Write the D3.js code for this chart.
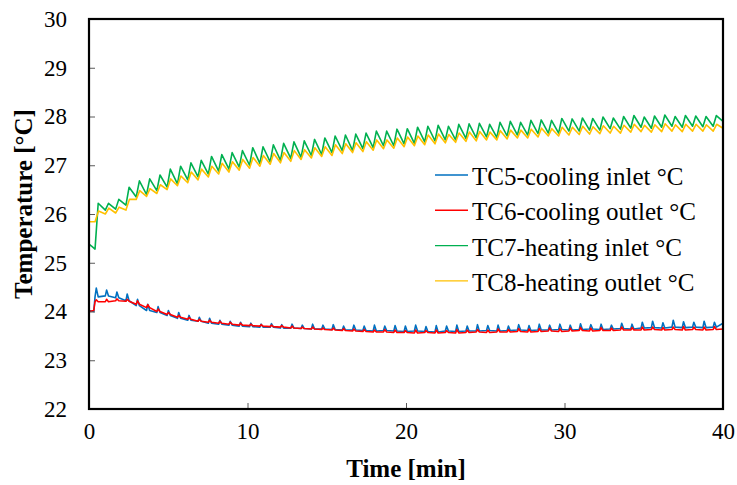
<!DOCTYPE html>
<html>
<head>
<meta charset="utf-8">
<script src="https://cdn.jsdelivr.net/npm/d3@7/dist/d3.min.js"></script>
<style>
  html, body { margin: 0; padding: 0; background: #fff; }
  svg { display: block; }
  text { font-family: "Liberation Serif", "Times New Roman", serif; fill: #000; }
</style>
</head>
<body>
<svg id="chart" width="737" height="485"></svg>
<script>
// Thermocouple readings; each cycle of the heater/chiller gives one low and one high value.
const cycleStart = 0.38;   // min, first cycle
const cyclePeriod = 0.65;  // min
const endTime = 40;

const seriesNames = [
  "TC5-cooling inlet °C",
  "TC6-cooling outlet °C",
  "TC7-heating inlet °C",
  "TC8-heating outlet °C"
];
const seriesColors = ["#0070C0", "#FF0000", "#00B050", "#FFC000"];

const xTicks = [0, 10, 20, 30, 40];
const yTicks = [22, 23, 24, 25, 26, 27, 28, 29, 30];

// readings before the first cycle: [time, value]
const tc5Start = [[0, 24.02], [0.3, 24.0]];
const tc6Start = [[0, 24.0], [0.3, 24.02]];
const tc7Start = [[0, 25.38], [0.2, 25.33]];
const tc8Start = [[0, 25.84], [0.3, 25.84]];

// TC5 – cooling inlet
const tc5Low = [24.30, 24.32, 24.28, 24.22, 24.12, 24.02, 23.98, 23.92, 23.86, 23.82,
  23.80, 23.76, 23.74, 23.72, 23.70, 23.69, 23.68, 23.68, 23.66, 23.66,
  23.65, 23.64, 23.64, 23.63, 23.62, 23.62, 23.61, 23.60, 23.61, 23.60,
  23.59, 23.60, 23.59, 23.58, 23.60, 23.59, 23.60, 23.60, 23.61, 23.60,
  23.61, 23.62, 23.61, 23.62, 23.62, 23.63, 23.62, 23.63, 23.64, 23.63,
  23.64, 23.65, 23.64, 23.66, 23.67, 23.66, 23.68, 23.67, 23.68, 23.67, 23.68];
const tc5High = [24.48, 24.44, 24.40, 24.36, 24.25, 24.15, 24.10, 24.02, 23.98, 23.92,
  23.88, 23.86, 23.82, 23.80, 23.78, 23.76, 23.74, 23.75, 23.73, 23.74,
  23.72, 23.74, 23.72, 23.73, 23.70, 23.72, 23.70, 23.72, 23.70, 23.71,
  23.70, 23.72, 23.69, 23.71, 23.70, 23.72, 23.70, 23.73, 23.71, 23.72,
  23.70, 23.73, 23.71, 23.74, 23.72, 23.74, 23.72, 23.75, 23.73, 23.74,
  23.72, 23.76, 23.74, 23.78, 23.80, 23.77, 23.82, 23.79, 23.78, 23.80, 23.78];
const tc5End = 23.76;

// TC6 – cooling outlet
const tc6Low = [24.20, 24.20, 24.22, 24.21, 24.15, 24.08, 24.00, 23.94, 23.88, 23.84,
  23.80, 23.78, 23.76, 23.74, 23.72, 23.71, 23.70, 23.69, 23.68, 23.66,
  23.65, 23.64, 23.63, 23.62, 23.61, 23.60, 23.59, 23.58, 23.58, 23.57,
  23.57, 23.56, 23.57, 23.56, 23.57, 23.56, 23.57, 23.58, 23.57, 23.58,
  23.58, 23.59, 23.58, 23.59, 23.60, 23.59, 23.60, 23.61, 23.60, 23.61,
  23.61, 23.62, 23.62, 23.62, 23.63, 23.62, 23.63, 23.62, 23.63, 23.62, 23.63];
const tc6High = [24.24, 24.25, 24.26, 24.25, 24.22, 24.14, 24.05, 23.98, 23.92, 23.88,
  23.84, 23.82, 23.80, 23.78, 23.76, 23.74, 23.73, 23.72, 23.71, 23.70,
  23.68, 23.68, 23.66, 23.66, 23.65, 23.64, 23.63, 23.62, 23.63, 23.62,
  23.61, 23.62, 23.61, 23.62, 23.61, 23.63, 23.62, 23.63, 23.62, 23.64,
  23.63, 23.65, 23.64, 23.65, 23.66, 23.65, 23.66, 23.67, 23.66, 23.67,
  23.66, 23.68, 23.67, 23.68, 23.68, 23.67, 23.68, 23.69, 23.68, 23.68, 23.69];
const tc6End = 23.64;

// TC7 – heating inlet
const tc7Low = [25.28, 26.08, 26.10, 26.18, 26.35, 26.40, 26.48, 26.55, 26.62, 26.70,
  26.76, 26.82, 26.88, 26.92, 26.96, 27.00, 27.04, 27.07, 27.10, 27.14,
  27.16, 27.20, 27.22, 27.26, 27.30, 27.30, 27.34, 27.36, 27.40, 27.40,
  27.44, 27.45, 27.48, 27.50, 27.52, 27.52, 27.55, 27.56, 27.58, 27.57,
  27.60, 27.62, 27.62, 27.65, 27.66, 27.66, 27.70, 27.70, 27.72, 27.72,
  27.75, 27.74, 27.76, 27.78, 27.76, 27.78, 27.80, 27.78, 27.80, 27.79, 27.80];
const tc7High = [26.22, 26.22, 26.30, 26.55, 26.68, 26.72, 26.80, 26.92, 26.98, 27.05,
  27.10, 27.18, 27.22, 27.26, 27.30, 27.36, 27.38, 27.42, 27.45, 27.48,
  27.50, 27.53, 27.56, 27.60, 27.62, 27.64, 27.66, 27.70, 27.70, 27.74,
  27.75, 27.78, 27.80, 27.82, 27.80, 27.84, 27.85, 27.86, 27.84, 27.88,
  27.90, 27.88, 27.92, 27.93, 27.92, 27.96, 27.95, 27.97, 27.96, 27.99,
  27.97, 28.00, 28.02, 27.99, 28.01, 28.03, 28.00, 28.02, 28.01, 28.00, 28.02];
const tc7End = 27.90;

// TC8 – heating outlet
const tc8Low = [25.84, 26.00, 26.02, 26.08, 26.30, 26.36, 26.42, 26.50, 26.58, 26.64,
  26.70, 26.76, 26.82, 26.86, 26.90, 26.94, 26.98, 27.02, 27.05, 27.08,
  27.12, 27.15, 27.18, 27.20, 27.24, 27.26, 27.28, 27.31, 27.34, 27.35,
  27.38, 27.40, 27.42, 27.44, 27.46, 27.47, 27.49, 27.50, 27.52, 27.52,
  27.54, 27.56, 27.56, 27.58, 27.60, 27.60, 27.62, 27.63, 27.64, 27.65,
  27.66, 27.66, 27.68, 27.69, 27.68, 27.69, 27.70, 27.69, 27.70, 27.70, 27.70];
const tc8High = [26.06, 26.12, 26.14, 26.30, 26.48, 26.52, 26.60, 26.72, 26.78, 26.86,
  26.92, 26.98, 27.04, 27.07, 27.12, 27.16, 27.20, 27.24, 27.26, 27.30,
  27.32, 27.36, 27.38, 27.42, 27.44, 27.46, 27.48, 27.52, 27.52, 27.56,
  27.58, 27.60, 27.62, 27.64, 27.63, 27.66, 27.68, 27.69, 27.68, 27.71,
  27.72, 27.72, 27.74, 27.76, 27.75, 27.78, 27.78, 27.80, 27.79, 27.81,
  27.80, 27.82, 27.84, 27.82, 27.83, 27.85, 27.83, 27.84, 27.84, 27.83, 27.84];
const tc8End = 27.76;

// Heating loops: quick rise to the high, slow decay to the next low.
function sawtooth(start, low, high, end, rise) {
  const pts = start.slice();
  low.forEach((v, i) => {
    const t = cycleStart + i * cyclePeriod;
    pts.push([t, v]);
    pts.push([t + rise, high[i]]);
  });
  pts.push([endTime, end]);
  return pts;
}
// Cooling loops: short spike to the high, then back to the low.
function spiky(start, low, high, end) {
  const pts = start.slice();
  low.forEach((v, i) => {
    const t = cycleStart + i * cyclePeriod;
    pts.push([t, v]);
    pts.push([t + 0.08, high[i]]);
    pts.push([t + 0.2, v]);
  });
  pts.push([endTime, end]);
  return pts;
}

const series = [
  spiky(tc5Start, tc5Low, tc5High, tc5End),
  spiky(tc6Start, tc6Low, tc6High, tc6End),
  sawtooth(tc7Start, tc7Low, tc7High, tc7End, 0.2),
  sawtooth(tc8Start, tc8Low, tc8High, tc8End, 0.22)
];

const serif = "'Liberation Serif', 'Times New Roman', serif";
const margin = { left: 89, right: 14, top: 19, bottom: 76 };
const W = 737, H = 485;
const svg = d3.select("#chart");

const x = d3.scaleLinear().domain([0, 40]).range([margin.left, W - margin.right]);
const y = d3.scaleLinear().domain([22, 30]).range([H - margin.bottom, margin.top]);

const plot = svg.append("g");
plot.append("clipPath").attr("id", "clip").append("rect")
  .attr("x", x(0)).attr("y", y(30)).attr("width", x(40) - x(0)).attr("height", y(22) - y(30));

const line = d3.line().x(d => x(d[0])).y(d => y(d[1]));
const lines = plot.append("g").attr("clip-path", "url(#clip)");
series.forEach((s, i) => {
  lines.append("path").datum(s)
    .attr("d", line)
    .attr("fill", "none")
    .attr("stroke", seriesColors[i])
    .attr("stroke-width", 1.6)
    .attr("stroke-linejoin", "round");
});

// Axes with inward ticks
const xAxis = d3.axisBottom(x).tickValues(xTicks).tickSize(-6).tickPadding(14).tickFormat(d3.format("d"));
const yAxis = d3.axisLeft(y).tickValues(yTicks).tickSize(-6).tickPadding(22).tickFormat(d3.format("d"));

const gx = svg.append("g").attr("transform", `translate(0,${y(22)})`).call(xAxis);
const gy = svg.append("g").attr("transform", `translate(${x(0)},0)`).call(yAxis);
[gx, gy].forEach(g => {
  g.attr("font-family", serif).attr("font-size", 23);
  g.select(".domain").remove();
  g.selectAll(".tick line").attr("stroke", "#595959").attr("stroke-width", 1);
  g.selectAll(".tick text")
    .attr("font-family", serif)
    .style("font-family", serif)
    .style("font-size", "23px").attr("fill", "#000");
});
gx.selectAll(".tick line").filter(d => d === 0 || d === 40).remove();
gy.selectAll(".tick line").filter(d => d === 22 || d === 30).remove();

// Plot frame
svg.append("rect")
  .attr("x", x(0)).attr("y", y(30))
  .attr("width", x(40) - x(0)).attr("height", y(22) - y(30))
  .attr("fill", "none").attr("stroke", "#000").attr("stroke-width", 2.2);

// Axis titles
svg.append("text")
  .attr("x", (x(0) + x(40)) / 2).attr("y", 477)
  .attr("text-anchor", "middle")
  .style("font-size", "25px").style("font-weight", "bold")
  .text("Time [min]");
svg.append("text")
  .attr("transform", `translate(32,${204}) rotate(-90)`)
  .attr("text-anchor", "middle")
  .style("font-size", "25px").style("font-weight", "bold")
  .text("Temperature [°C]");

// Legend
const legend = svg.append("g");
seriesNames.forEach((name, i) => {
  const ly = 175 + i * 35.3;
  legend.append("line")
    .attr("x1", 435).attr("x2", 468).attr("y1", ly).attr("y2", ly)
    .attr("stroke", seriesColors[i]).attr("stroke-width", 1.4);
  legend.append("text")
    .attr("x", 472).attr("y", ly + 10)
    .style("font-size", "25px")
    .text(name);
});
</script>
</body>
</html>
